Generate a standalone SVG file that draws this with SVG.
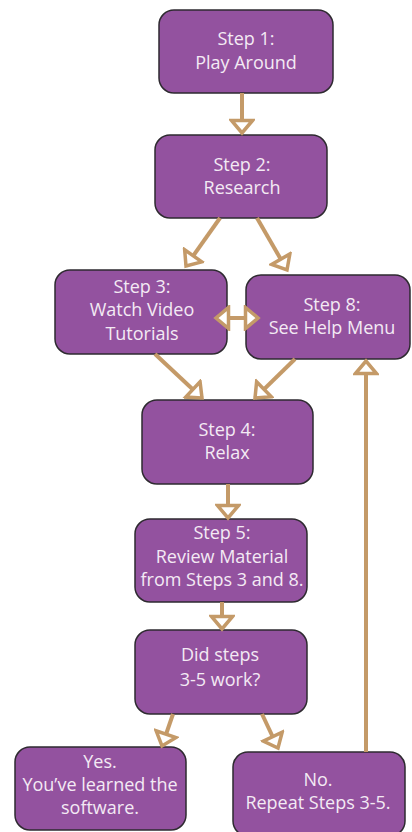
<svg xmlns="http://www.w3.org/2000/svg" width="412" height="832" viewBox="0 0 412 832">
<style>
.box{fill:#93529f;stroke:#2e2a30;stroke-width:1.5}
.t{font-family:"Open Sans","Noto Sans",sans-serif;font-size:18px;fill:#f3eaf4;text-anchor:middle}
.c{stroke:#c49a68;stroke-width:4;fill:none}
</style>
<defs>
<marker id="ah" markerUnits="userSpaceOnUse" viewBox="0 0 18 26" markerWidth="18" markerHeight="26" refX="15" refY="13" orient="auto-start-reverse">
<path d="M2.5,2.5 L15,13 L2.5,23.5 Z" fill="#ffffff" stroke="#c49a68" stroke-width="3.5" stroke-linejoin="miter"/>
</marker>
</defs>
<rect width="412" height="832" fill="#ffffff"/>
<g id="step1"><rect class="box" x="159" y="10" width="174" height="83" rx="15"/>
<text class="t" x="246" y="45">Step 1:</text><text class="t" x="246" y="69">Play Around</text></g>
<g id="step2"><rect class="box" x="155" y="135" width="172" height="83" rx="15"/>
<text class="t" x="242" y="171">Step 2:</text><text class="t" x="242" y="194">Research</text></g>
<g id="step3"><rect class="box" x="55" y="270" width="172" height="84" rx="15"/>
<text class="t" x="142" y="293">Step 3:</text><text class="t" x="142" y="316">Watch Video</text><text class="t" x="142" y="340">Tutorials</text></g>
<g id="step8"><rect class="box" x="246" y="275" width="164" height="84" rx="15"/>
<text class="t" x="332" y="311">Step 8:</text><text class="t" x="332" y="334">See Help Menu</text></g>
<g id="step4"><rect class="box" x="142" y="400" width="171" height="84" rx="15"/>
<text class="t" x="227" y="436">Step 4:</text><text class="t" x="227" y="459">Relax</text></g>
<g id="step5"><rect class="box" x="135" y="519" width="172" height="83" rx="15"/>
<text class="t" x="222" y="539">Step 5:</text><text class="t" x="222" y="563">Review Material</text><text class="t" x="222" y="586">from Steps 3 and 8.</text></g>
<g id="decision"><rect class="box" x="135" y="630" width="172" height="84" rx="15"/>
<text class="t" x="220" y="661">Did steps</text><text class="t" x="220" y="686">3-5 work?</text></g>
<g id="yes"><rect class="box" x="15" y="747" width="171" height="83" rx="15"/>
<text class="t" x="100" y="768">Yes.</text><text class="t" x="100" y="791">You’ve learned the</text><text class="t" x="100" y="814">software.</text></g>
<g id="no"><rect class="box" x="233" y="752" width="172" height="84" rx="15"/>
<text class="t" x="318" y="786">No.</text><text class="t" x="318" y="809">Repeat Steps 3-5.</text></g>
<g id="connectors">
<line class="c" x1="242" y1="93" x2="242" y2="133" marker-end="url(#ah)"/>
<line class="c" x1="220" y1="218" x2="186" y2="266" marker-end="url(#ah)"/>
<line class="c" x1="257" y1="218" x2="287" y2="270" marker-end="url(#ah)"/>
<line class="c" x1="216" y1="318" x2="258" y2="318" marker-start="url(#ah)" marker-end="url(#ah)"/>
<line class="c" x1="155" y1="354" x2="202" y2="398" marker-end="url(#ah)"/>
<line class="c" x1="295" y1="359" x2="255" y2="398" marker-end="url(#ah)"/>
<line class="c" x1="228" y1="484" x2="228" y2="518" marker-end="url(#ah)"/>
<line class="c" x1="222" y1="602" x2="222" y2="629" marker-end="url(#ah)"/>
<line class="c" x1="173" y1="714" x2="162" y2="746" marker-end="url(#ah)"/>
<line class="c" x1="262" y1="714" x2="278" y2="748" marker-end="url(#ah)"/>
<line class="c" x1="366" y1="752" x2="366" y2="361" marker-end="url(#ah)"/>
</g>
</svg>
